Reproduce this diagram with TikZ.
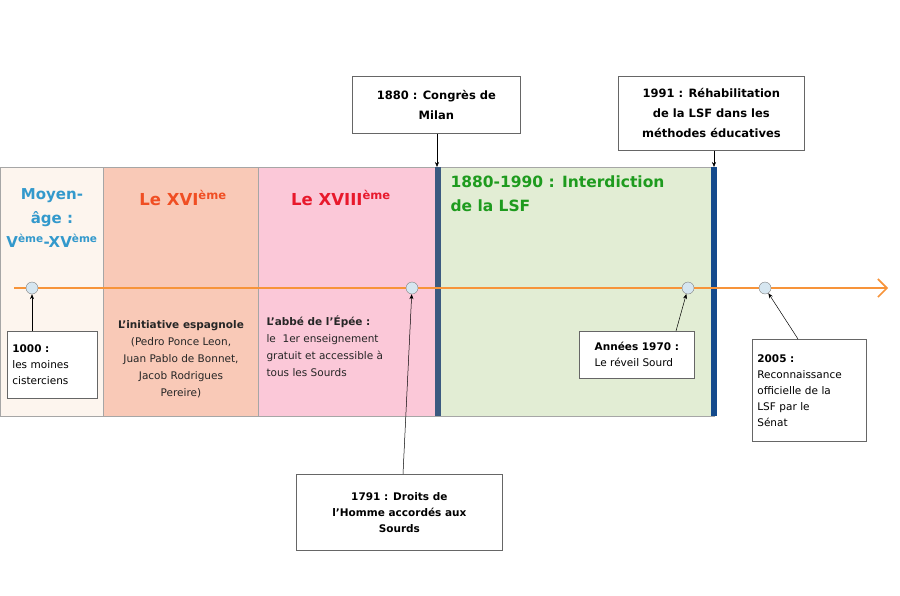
\documentclass[tikz,border=0pt]{standalone}
\usepackage{fontspec}
\setmainfont{DejaVu Sans}
\usetikzlibrary{arrows.meta}
\definecolor{cream}{HTML}{FDF5EE}
\definecolor{salmon}{HTML}{F9C9B7}
\definecolor{rose}{HTML}{FBC8D8}
\definecolor{sage}{HTML}{E2EDD4}
\definecolor{tlorange}{HTML}{F7943A}
\definecolor{dotfill}{HTML}{D6E6F0}
\definecolor{barblue}{HTML}{144A8C}
\definecolor{bargray}{HTML}{3B5A80}
\definecolor{medblue}{HTML}{3399CC}
\definecolor{xvired}{HTML}{F04E23}
\definecolor{xviiired}{HTML}{E8192C}
\definecolor{lsfgreen}{HTML}{1E9B1E}
\tikzset{
% Styles for the periods, events and notes
period/.style={draw=gray!70,line width=0.6pt},
event dot/.style={circle,draw=gray,fill=dotfill,inner sep=0pt,minimum size=12pt},
note box/.style={draw=gray!80!black,fill=white,line width=0.7pt,align=left,font=\fontsize{10.5}{16}\selectfont,inner sep=5pt},
pointer/.style={-{Stealth[length=5pt,width=4pt]},line width=0.5pt},
title/.style={font=\fontsize{16.5}{22}\selectfont\bfseries,align=center}
}
\begin{document}
\begin{tikzpicture}[x=1pt,y=-1pt]
\useasboundingbox (0,0) rectangle (900,595);
% Periods
\fill[cream] (0,167) rectangle (103,416);
\fill[salmon] (103,167) rectangle (258,416);
\fill[rose] (258,167) rectangle (435,416);
\fill[sage] (441,167) rectangle (714,416);
\draw[period] (0,167) rectangle (714,416);
\draw[period] (103,167) -- (103,416) (258,167) -- (258,416);
\fill[bargray] (435,167) rectangle (441,416);
\fill[barblue] (711,167) rectangle (717,416);
% Period titles
\node[title,text=medblue,font=\fontsize{15}{24}\selectfont\bfseries] (moyen) at (52,218) {Moyen-\\âge :\\V\textsuperscript{ème}-XV\textsuperscript{ème}};
\node[title,text=xvired] (xvi) at (183,198) {Le XVI\textsuperscript{ème}};
\node[title,text=xviiired] (xviii) at (341,198) {Le XVIII\textsuperscript{ème}};
\node[title,text=lsfgreen,align=left,anchor=north west,font=\fontsize{15.5}{24}\selectfont\bfseries] (interd) at (447,172) {1880-1990 : Interdiction\\de la LSF};
% Timeline
\coordinate (tstart) at (14,288);
\coordinate (tend) at (888,288);
\draw[tlorange,line width=1.6pt,-{Straight Barb[length=9pt,width=18pt]}] (tstart) -- (tend);
\node[event dot] (d1000) at (32,288) {};
\node[event dot] (d1791) at (412,288) {};
\node[event dot] (d1970) at (688,288) {};
\node[event dot] (d2005) at (765,288) {};
% Texts inside the periods
\node[font=\fontsize{10.5}{17}\selectfont,align=center,text=black!85] (espagn) at (181,359) {\textbf{L'initiative espagnole}\\(Pedro Ponce Leon,\\Juan Pablo de Bonnet,\\Jacob Rodrigues\\Pereire)};
\node[font=\fontsize{10.5}{17}\selectfont,align=left,anchor=north west,text=black!85] (epee) at (263,312) {\textbf{L'abbé de l'Épée :}\\le\ \ 1er enseignement\\gratuit et accessible à\\tous les Sourds};
% Notes
\node[note box,anchor=north west,text width=80pt,minimum height=67pt] (n1000) at (7,331) {\textbf{1000 :}\\les moines\\cisterciens};
\node[note box,anchor=north west,minimum width=206pt,minimum height=76pt,align=center] (n1791) at (296,474) {\textbf{1791 : Droits de}\\\textbf{l'Homme accordés aux}\\\textbf{Sourds}};
\node[note box,anchor=north west,minimum width=115pt,minimum height=47pt] (n1970) at (579,331) {\textbf{Années 1970 :}\\Le réveil Sourd};
\node[note box,anchor=north west,text width=104pt,minimum height=102pt] (n2005) at (752,339) {\textbf{2005 :}\\Reconnaissance\\officielle de la\\LSF par le\\Sénat};
\node[note box,anchor=north west,minimum width=168pt,minimum height=57pt,align=center,font=\fontsize{11.5}{20}\selectfont] (n1880) at (352,76) {\textbf{1880 : Congrès de}\\\textbf{Milan}};
\node[note box,anchor=north west,minimum width=186pt,minimum height=74pt,align=center,font=\fontsize{11.5}{20}\selectfont] (n1991) at (618,76) {\textbf{1991 : Réhabilitation}\\\textbf{de la LSF dans les}\\\textbf{méthodes éducatives}};
% Pointers
\coordinate (bar1880) at (437,167);
\coordinate (bar1991) at (714,167);
\draw[pointer] (n1000.north -| d1000) -- (d1000);
\draw[pointer] (403,474) -- (d1791);
\draw[pointer] (676,331) -- (d1970);
\draw[pointer] (798,339) -- (d2005);
\draw[pointer] (n1880.south -| bar1880) -- (bar1880);
\draw[pointer] (n1991.south -| bar1991) -- (bar1991);
\end{tikzpicture}
\end{document}
